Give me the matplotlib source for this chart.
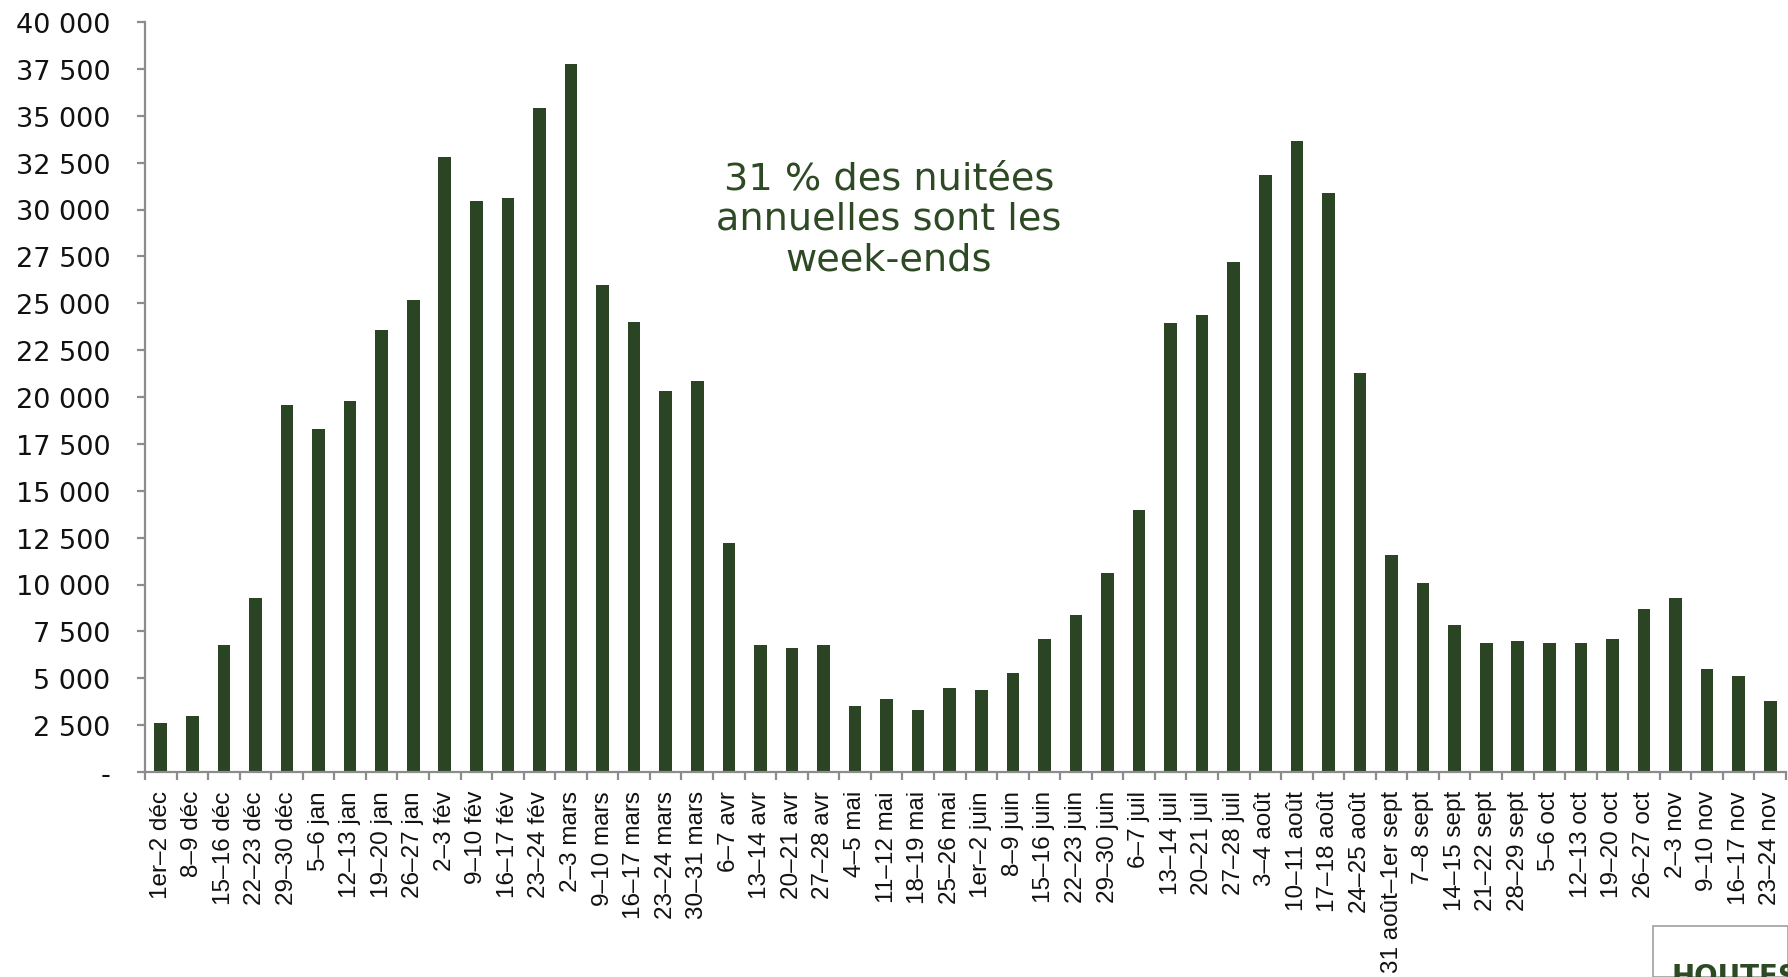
import matplotlib
matplotlib.use("Agg")
import matplotlib.pyplot as plt
from matplotlib.ticker import FuncFormatter, FixedLocator
from matplotlib.patches import Rectangle
import numpy as np

categories = [
    "1er–2 déc", "8–9 déc", "15–16 déc", "22–23 déc", "29–30 déc",
    "5–6 jan", "12–13 jan", "19–20 jan", "26–27 jan",
    "2–3 fév", "9–10 fév", "16–17 fév", "23–24 fév",
    "2–3 mars", "9–10 mars", "16–17 mars", "23–24 mars", "30–31 mars",
    "6–7 avr", "13–14 avr", "20–21 avr", "27–28 avr",
    "4–5 mai", "11–12 mai", "18–19 mai", "25–26 mai",
    "1er–2 juin", "8–9 juin", "15–16 juin", "22–23 juin", "29–30 juin",
    "6–7 juil", "13–14 juil", "20–21 juil", "27–28 juil",
    "3–4 août", "10–11 août", "17–18 août", "24–25 août",
    "31 août–1er sept", "7–8 sept", "14–15 sept", "21–22 sept", "28–29 sept",
    "5–6 oct", "12–13 oct", "19–20 oct", "26–27 oct",
    "2–3 nov", "9–10 nov", "16–17 nov", "23–24 nov",
]
values = [
    2600, 3000, 6750, 9300, 19600,
    18300, 19800, 23600, 25200,
    32800, 30450, 30600, 35400,
    37750, 26000, 24000, 20300, 20850,
    12200, 6800, 6600, 6800,
    3500, 3900, 3300, 4500,
    4400, 5300, 7100, 8400, 10600,
    14000, 23950, 24350, 27200,
    31850, 33650, 30900, 21300,
    11600, 10100, 7850, 6900, 7000,
    6900, 6900, 7100, 8700,
    9300, 5500, 5100, 3800,
]
yticks = list(range(0, 40001, 2500))
annotation = "31 % des nuitées\nannuelles sont les\nweek-ends"
box_text = "HOUTES"

bar_color = "#2b4423"
text_green = "#2d4a24"
axis_gray = "#8c8c8c"

W, H = 1788, 978
fig = plt.figure(figsize=(W / 100, H / 100), dpi=100)
ax = fig.add_axes([145 / W, 1 - 773 / H, (1786 - 145) / W, (773 - 23) / H])

x = np.arange(len(categories))
ax.bar(x, values, width=0.4, color=bar_color, zorder=2)

ax.set_xlim(-0.5, len(categories) - 0.5)
ax.set_ylim(0, 40000)

for s in ["top", "right"]:
    ax.spines[s].set_visible(False)
for s in ["left", "bottom"]:
    ax.spines[s].set_color(axis_gray)
    ax.spines[s].set_linewidth(1.6)

ax.set_yticks(yticks)
ax.yaxis.set_major_formatter(FuncFormatter(
    lambda v, p: "-" if v == 0 else f"{int(v):,}".replace(",", " ")))
ax.tick_params(axis="y", length=6, width=1.6, color=axis_gray, pad=19,
               labelsize=19.5, labelcolor="#111111")
for lab in ax.get_yticklabels():
    lab.set_family(["DejaVu Sans"])

ax.set_xticks(x)
ax.set_xticklabels(categories, rotation=90, family=["Liberation Sans", "DejaVu Sans"],
                   fontsize=17.5, color="#111111")
ax.tick_params(axis="x", which="major", length=0, pad=13)
ax.xaxis.set_minor_locator(FixedLocator(np.arange(-0.5, len(categories), 1.0)))
ax.tick_params(axis="x", which="minor", length=6, width=1.6, color=axis_gray)

fig.text(889 / W, 1 - 161 / H, annotation, ha="center", va="top",
         fontsize=27.5, color=text_green, linespacing=1.17,
         family=["DejaVu Sans"])

fig.patches.append(Rectangle((1653 / W, 0), 1 - 1653 / W, 1 - 927 / H,
                             transform=fig.transFigure, facecolor="white",
                             edgecolor="#a0a0a0", linewidth=1.2))
fig.text(1672 / W, 1 - 963 / H, box_text, ha="left", va="top",
         fontsize=20, fontweight="bold", color=text_green,
         family=["DejaVu Sans"])

fig.savefig("out.png", dpi=100)
